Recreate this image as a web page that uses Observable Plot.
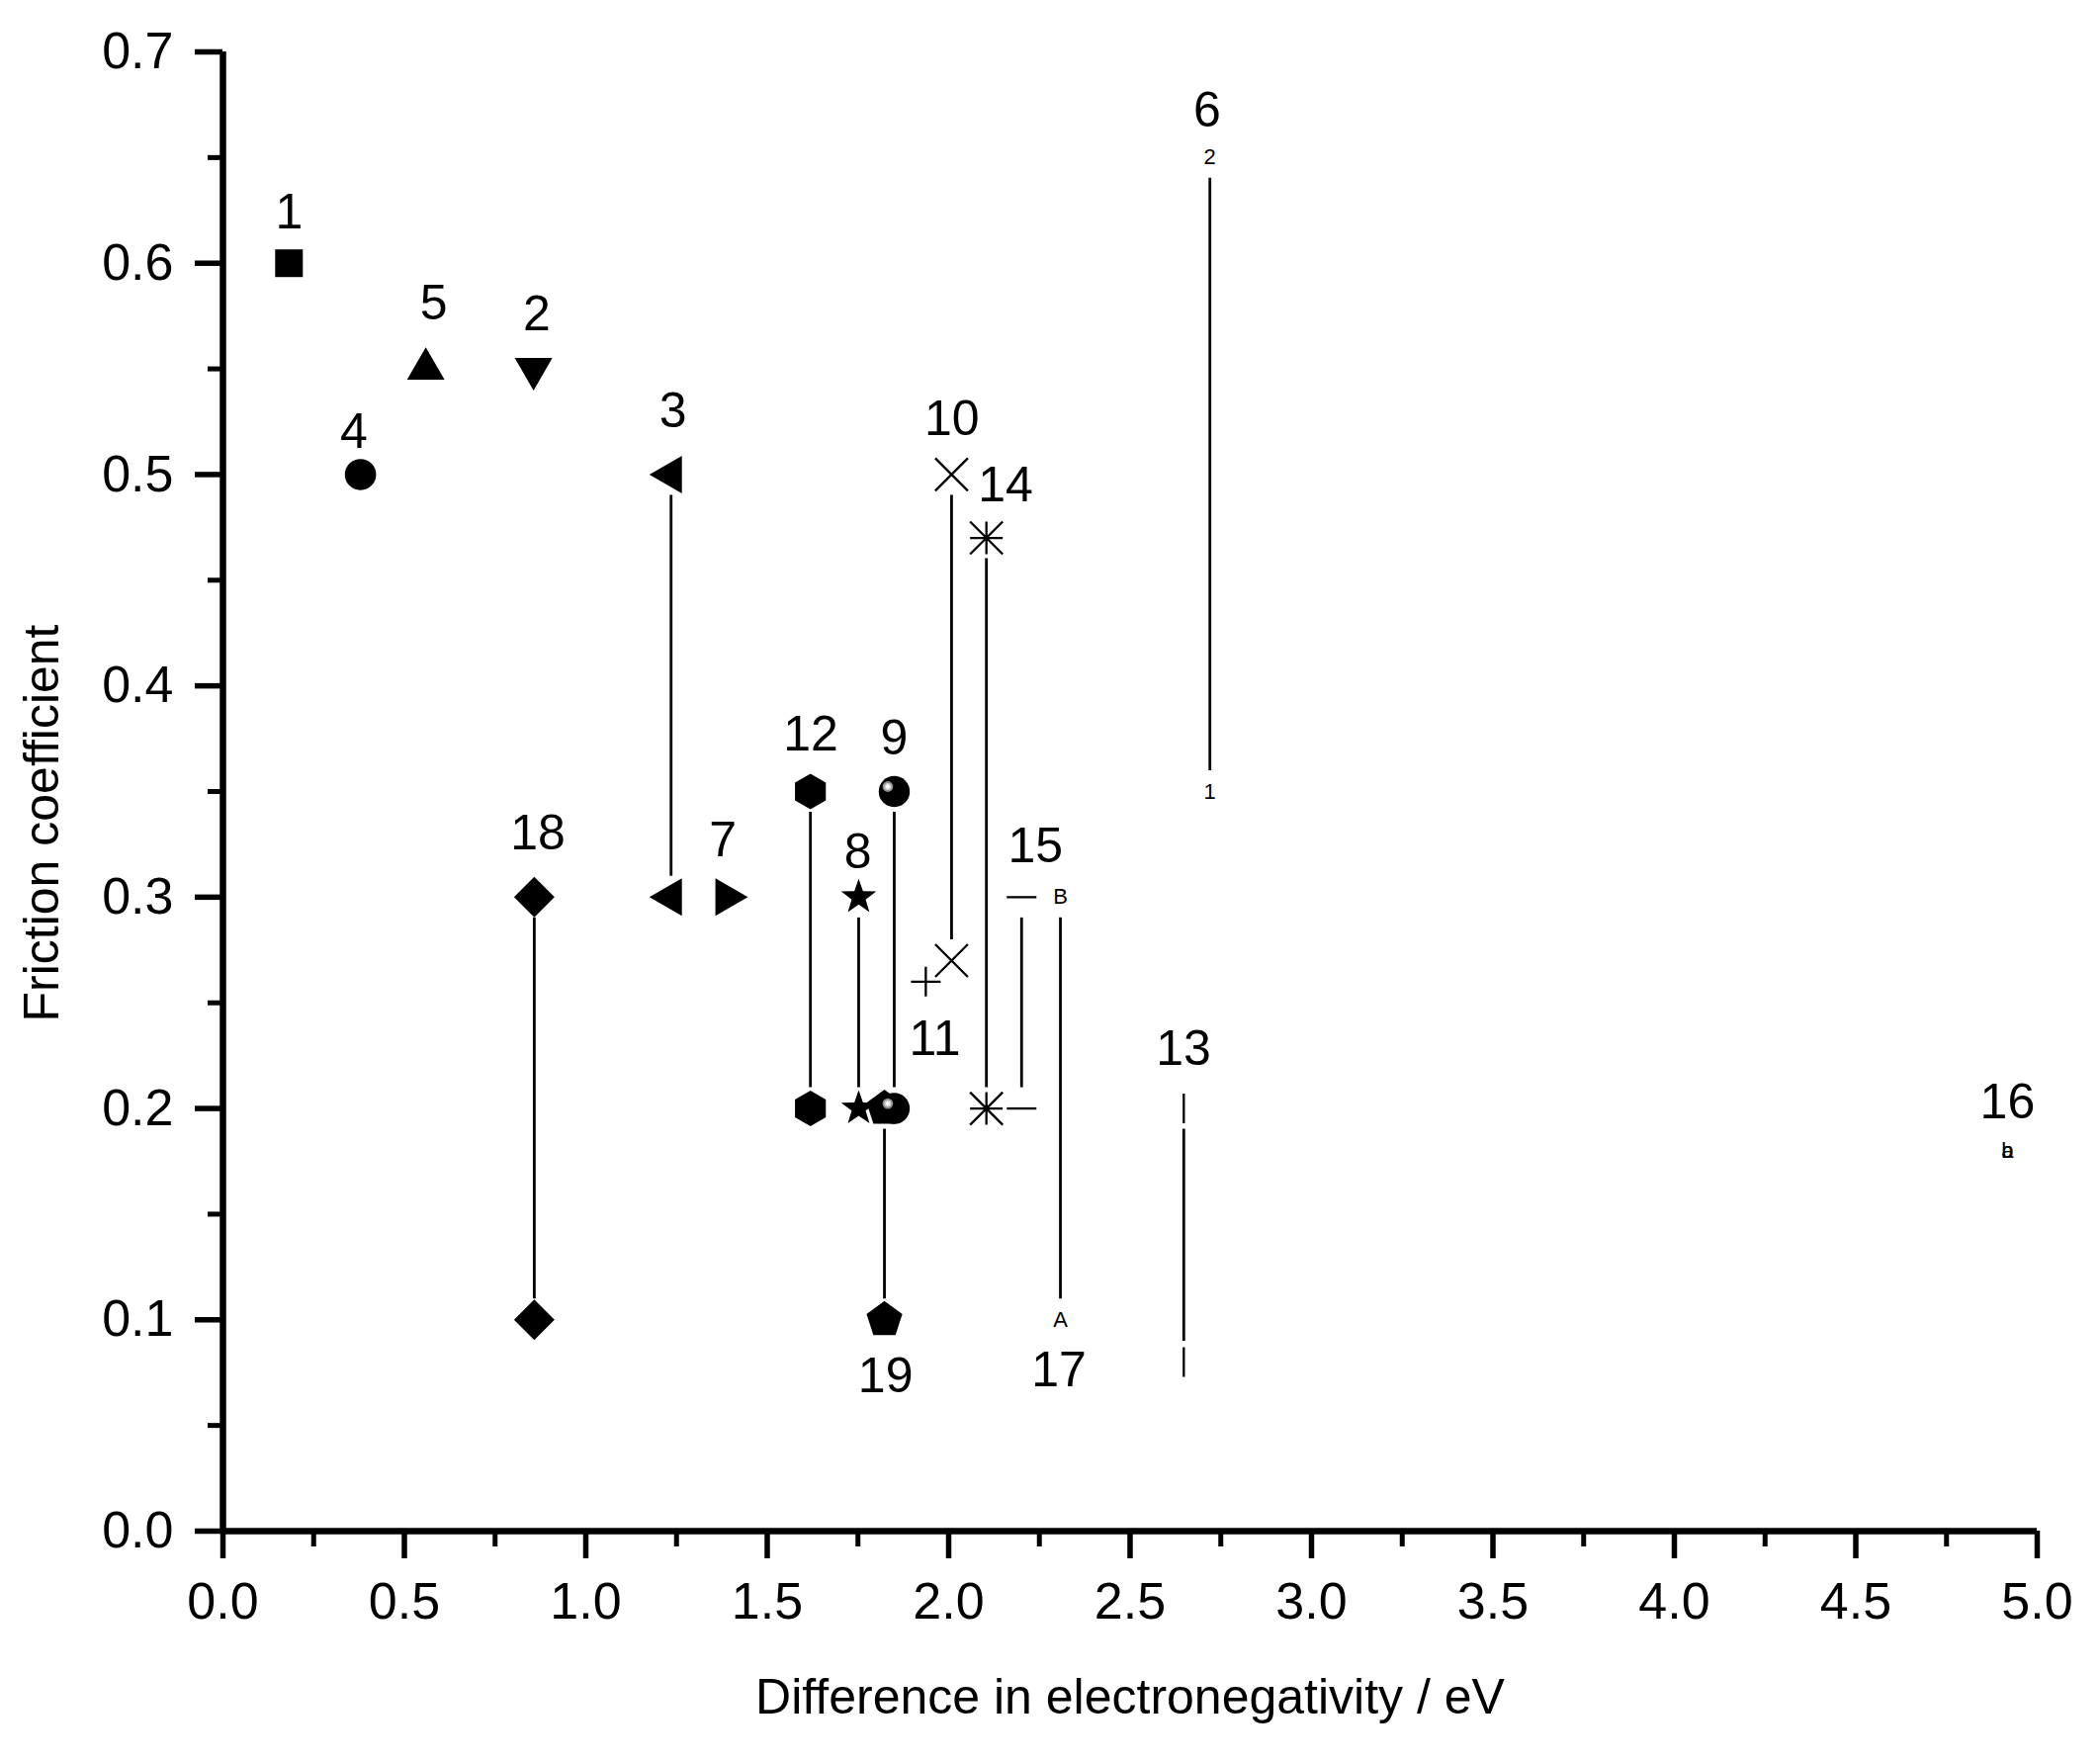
<!DOCTYPE html>
<html>
<head>
<meta charset="utf-8">
<script src="https://cdn.jsdelivr.net/npm/d3@7"></script>
<script src="https://cdn.jsdelivr.net/npm/@observablehq/plot@0.6"></script>
<style>
html, body { margin: 0; padding: 0; background: #ffffff; }
#chart svg { display: block; }
</style>
</head>
<body>
<div id="chart"></div>
<script>
// ---------------- data ----------------
const seriesIds   = ["1","2","3","4","5","6","7","8","9","10","11","12","13","14","15","16","17","18","19"];
const seriesX     = [0.182, 0.856, 1.235, 0.379, 0.559, 2.720, 1.387, 1.752, 1.850, 2.008, 1.937, 1.619, 2.648, 2.104, 2.201, 4.918, 2.308, 0.858, 1.823];
const seriesYHigh = [0.60, 0.55, 0.50, 0.50, 0.55, 0.65, 0.30, 0.30, 0.35, 0.50, 0.26, 0.35, 0.20, 0.47, 0.30, 0.18, 0.30, 0.30, 0.20];
const seriesYLow  = [null, null, 0.30, null, null, 0.35, null, 0.20, 0.20, 0.27, null, 0.20, 0.08, 0.20, 0.20, 0.18, 0.10, 0.10, 0.10];

// label positions (number written next to each series)
const labelX = [0.182, 0.865, 1.240, 0.361, 0.581, 2.712, 1.378, 1.750, 1.850, 2.009, 1.962, 1.620, 2.647, 2.157, 2.239, 4.918, 2.304, 0.868, 1.826];
const labelY = [0.624, 0.576, 0.530, 0.520, 0.581, 0.672, 0.327, 0.321, 0.375, 0.526, 0.233, 0.377, 0.228, 0.495, 0.324, 0.203, 0.076, 0.330, 0.073];

// text glyphs used as markers
const glyphIds  = ["6", "16", "17"];
const glyphHigh = ["2", "b", "B"];
const glyphLow  = ["1", "a", "A"];

const xMajor = [0, 0.5, 1, 1.5, 2, 2.5, 3, 3.5, 4, 4.5, 5];
const xMinor = [0.25, 0.75, 1.25, 1.75, 2.25, 2.75, 3.25, 3.75, 4.25, 4.75];
const yMajor = [0, 0.1, 0.2, 0.3, 0.4, 0.5, 0.6, 0.7];
const yMinor = [0.05, 0.15, 0.25, 0.35, 0.45, 0.55, 0.65];

const xTitle = "Difference in electronegativity / eV";
const yTitle = "Friction coefficient";

// ---------------- symbols ----------------
const sym = (fn) => ({ draw(c, size) { fn(c, Math.sqrt(size / Math.PI)); } });
const S3 = Math.sqrt(3);
const poly = (c, pts) => { c.moveTo(pts[0][0], pts[0][1]); for (let k = 1; k < pts.length; k++) c.lineTo(pts[k][0], pts[k][1]); c.closePath(); };
const SYM = {
  square: sym((c, r) => c.rect(-r, -r, 2 * r, 2 * r)),
  circle: sym((c, r) => { c.moveTo(r, 0); c.arc(0, 0, r, 0, 2 * Math.PI); }),
  triUp: sym((c, r) => { const h = r * S3; poly(c, [[0, -2 * h / 3], [r, h / 3], [-r, h / 3]]); }),
  triDown: sym((c, r) => { const h = r * S3; poly(c, [[0, 2 * h / 3], [r, -h / 3], [-r, -h / 3]]); }),
  triLeft: sym((c, r) => { const h = r * S3; poly(c, [[-2 * h / 3, 0], [h / 3, -r], [h / 3, r]]); }),
  triRight: sym((c, r) => { const h = r * S3; poly(c, [[2 * h / 3, 0], [-h / 3, -r], [-h / 3, r]]); }),
  diamond: sym((c, r) => poly(c, [[0, -r], [r, 0], [0, r], [-r, 0]])),
  hexagon: sym((c, r) => poly(c, d3.range(6).map(k => { const a = -Math.PI / 2 + k * Math.PI / 3; return [r * Math.cos(a), r * Math.sin(a)]; }))),
  pentagon: sym((c, r) => poly(c, d3.range(5).map(k => { const a = -Math.PI / 2 + k * 2 * Math.PI / 5; return [r * Math.cos(a), r * Math.sin(a)]; }))),
  star: sym((c, r) => poly(c, d3.range(10).map(k => { const a = -Math.PI / 2 + k * Math.PI / 5; const rr = k % 2 ? r * 0.40 : r; return [rr * Math.cos(a), rr * Math.sin(a)]; }))),
  times: sym((c, r) => { c.moveTo(-r, -r); c.lineTo(r, r); c.moveTo(-r, r); c.lineTo(r, -r); }),
  plus: sym((c, r) => { c.moveTo(-r, 0); c.lineTo(r, 0); c.moveTo(0, -r); c.lineTo(0, r); }),
  asterisk: sym((c, r) => { c.moveTo(-r, 0); c.lineTo(r, 0); c.moveTo(0, -r); c.lineTo(0, r); c.moveTo(-r, -r); c.lineTo(r, r); c.moveTo(-r, r); c.lineTo(r, -r); }),
  hline: sym((c, r) => { c.moveTo(-r, 0); c.lineTo(r, 0); }),
  vline: sym((c, r) => { c.moveTo(0, -r); c.lineTo(0, r); })
};
SYM.sphere = SYM.circle;

const symbolOf = {
  "1": "square", "2": "triDown", "3": "triLeft", "4": "circle", "5": "triUp",
  "7": "triRight", "8": "star", "9": "sphere", "10": "times", "11": "plus",
  "12": "hexagon", "13": "vline", "14": "asterisk", "15": "hline", "18": "diamond", "19": "pentagon"
};
const symbolStyle = {
  square: { r: 14, filled: true }, circle: { r: 15.8, filled: true }, sphere: { r: 15.7, filled: true },
  triUp: { r: 19, filled: true }, triDown: { r: 19, filled: true }, triLeft: { r: 19, filled: true }, triRight: { r: 19, filled: true },
  diamond: { r: 20.5, filled: true }, hexagon: { r: 18, filled: true }, pentagon: { r: 19, filled: true }, star: { r: 18.6, filled: true },
  times: { r: 16.5, filled: false }, plus: { r: 15, filled: false }, asterisk: { r: 16.5, filled: false },
  hline: { r: 15, filled: false }, vline: { r: 15, filled: false }
};

// ---------------- tables ----------------
const pts = [];
seriesIds.forEach((id, i) => {
  pts.push({ id, x: seriesX[i], y: seriesYHigh[i], end: "high" });
  if (seriesYLow[i] != null) pts.push({ id, x: seriesX[i], y: seriesYLow[i], end: "low" });
});
const links = seriesIds
  .map((id, i) => ({ id, x: seriesX[i], y1: seriesYHigh[i], y2: seriesYLow[i] }))
  .filter(d => d.y2 != null && d.y2 !== d.y1);
const labels = seriesIds.map((id, i) => ({ id, x: labelX[i], y: labelY[i] }));
const glyphPts = pts.filter(d => glyphIds.includes(d.id)).map(d => {
  const k = glyphIds.indexOf(d.id);
  return { ...d, text: d.end === "high" ? glyphHigh[k] : glyphLow[k] };
});

const drawOrder = ["1", "2", "3", "4", "5", "7", "8", "10", "11", "12", "13", "14", "15", "18", "19", "9"];
const markerMarks = drawOrder.flatMap(id => {
  const type = symbolOf[id];
  const st = symbolStyle[type];
  const data = pts.filter(d => d.id === id);
  const m = [Plot.dot(data, {
    x: "x", y: "y", symbol: SYM[type], r: st.r,
    fill: st.filled ? "black" : "none",
    stroke: st.filled ? "none" : "black",
    strokeWidth: st.filled ? 0 : 2.3
  })];
  if (type === "sphere") {
    m.push(Plot.dot(data, { x: "x", y: "y", r: 5.4, dx: -6.5, dy: -5, fill: "#8c8c8c", stroke: "none" }));
    m.push(Plot.dot(data, { x: "x", y: "y", r: 3.6, dx: -6.5, dy: -5, fill: "#cfcfcf", stroke: "none" }));
    m.push(Plot.dot(data, { x: "x", y: "y", r: 1.9, dx: -6.5, dy: -5, fill: "#ffffff", stroke: "none" }));
  }
  return m;
});

const fmt = d3.format(".1f");
const FONT = "'Liberation Sans', Arial, Helvetica, sans-serif";

const chart = Plot.plot({
  width: 2124,
  height: 1782,
  marginLeft: 225,
  marginRight: 64,
  marginTop: 52,
  marginBottom: 234,
  style: { fontFamily: FONT, fontSize: "52px", background: "#ffffff", color: "#000000", overflow: "visible" },
  x: { domain: [0, 5] },
  y: { domain: [0, 0.7] },
  marks: [
    // axes
    Plot.axisY({ ticks: yMinor, tickSize: 15, tickFormat: () => "", strokeWidth: 5, label: null }),
    Plot.axisY({ ticks: yMajor, tickSize: 28, tickPadding: 22, tickFormat: fmt, strokeWidth: 5.5, label: null, fontSize: 52 }),
    Plot.axisX({ ticks: xMinor, tickSize: 16, tickFormat: () => "", strokeWidth: 5, label: null }),
    Plot.axisX({ ticks: xMajor, tickSize: 28, tickPadding: 24, tickFormat: fmt, strokeWidth: 5.5, label: null, fontSize: 52 }),
    Plot.ruleX([0], { stroke: "black", strokeWidth: 6.5 }),
    Plot.ruleY([0], { stroke: "black", strokeWidth: 6.5 }),
    Plot.text([xTitle], { frameAnchor: "bottom", dy: 184, lineAnchor: "bottom", textAnchor: "middle", fontSize: 50, fill: "black" }),
    Plot.text([yTitle], { frameAnchor: "left", dx: -167, dy: 32, rotate: -90, lineAnchor: "bottom", textAnchor: "middle", fontSize: 50, fill: "black" }),
    // connecting lines
    Plot.ruleX(links, { x: "x", y1: "y1", y2: "y2", insetTop: 21, insetBottom: 21, stroke: "black", strokeWidth: 2.8 }),
    // markers
    ...markerMarks,
    Plot.text(glyphPts, { x: "x", y: "y", text: "text", fontSize: 22, lineAnchor: "middle", fill: "black" }),
    // series numbers
    Plot.text(labels, { x: "x", y: "y", text: "id", fontSize: 50, lineAnchor: "middle", fill: "black" })
  ]
});
document.getElementById("chart").appendChild(chart);
</script>
</body>
</html>
